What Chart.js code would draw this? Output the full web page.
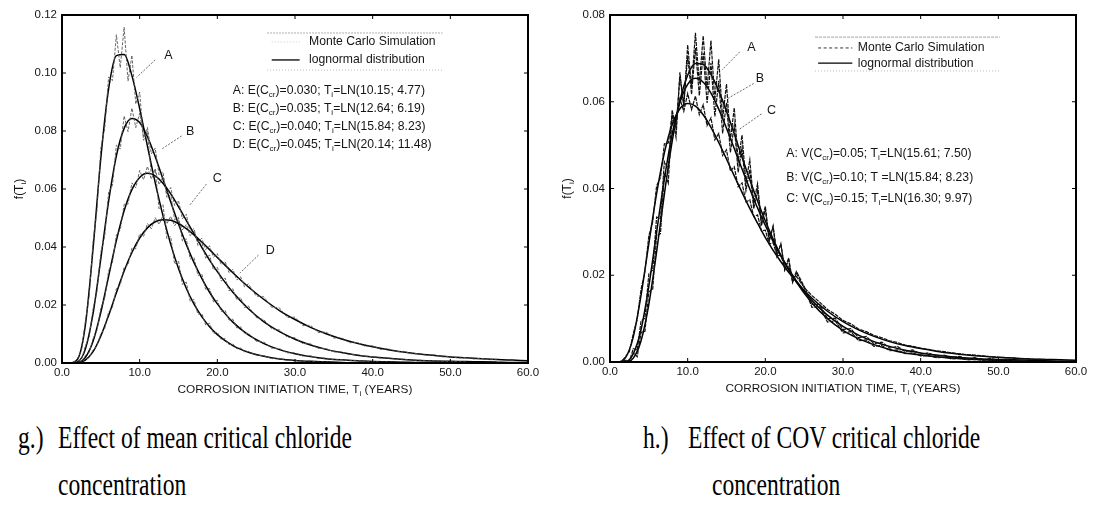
<!DOCTYPE html>
<html>
<head>
<meta charset="UTF-8">
<title>Corrosion initiation time</title>
<script src="https://cdn.jsdelivr.net/npm/chart.js@4"></script>
<style>
  body { margin: 0; background: #fff; width: 1095px; height: 512px; position: relative; overflow: hidden; }
  .plot { position: absolute; top: 0; }
  .cap { position: absolute; font-family: "Liberation Serif", "Times New Roman", serif; font-size: 31px; line-height: 1; color: #000;
         white-space: nowrap; transform: scaleX(0.76); transform-origin: 0 0; }
</style>
</head>
<body>
  <div class="plot" style="left:0"><canvas id="chartG" width="545" height="400"></canvas></div>
  <div class="plot" style="left:548px"><canvas id="chartH" width="545" height="399"></canvas></div>

  <div class="cap" style="left:18px; top:422px">g.)</div>
  <div class="cap" style="left:58px; top:422px">Effect of mean critical chloride</div>
  <div class="cap" style="left:58px; top:469px">concentration</div>
  <div class="cap" style="left:643px; top:422px">h.)</div>
  <div class="cap" style="left:688px; top:422px">Effect of COV critical chloride</div>
  <div class="cap" style="left:712px; top:469px">concentration</div>

<script>
// ---- data ----
const xTickLabels = ['0.0', '10.0', '20.0', '30.0', '40.0', '50.0', '60.0'];
const yTickLabelsG = ['0.00', '0.02', '0.04', '0.06', '0.08', '0.10', '0.12'];
const yTickLabelsH = ['0.00', '0.02', '0.04', '0.06', '0.08'];

// x positions of the fitted lognormal curves (years)
const lnX = [0, 1, 2, 3, 4, 5, 6, 7, 8, 9, 10, 11, 12, 13, 14, 15, 16, 17, 18, 19, 20,
  22, 24, 26, 28, 30, 32, 34, 36, 38, 40, 42, 44, 46, 48, 50, 52, 54, 56, 58, 60];

// x positions of the Monte Carlo histogram traces (years)
const mcX = [1, 1.5, 2, 2.5, 3, 3.5, 4, 4.5, 5, 5.5, 6, 6.5, 7, 7.5, 8, 8.5, 9, 9.5, 10, 10.5,
  11, 11.5, 12, 12.5, 13, 13.5, 14, 14.5, 15, 15.5, 16, 16.5, 17, 17.5, 18, 18.5, 19, 19.5, 20, 20.5,
  21, 21.5, 22, 22.5, 23, 23.5, 24,
  25, 26, 27, 28, 29, 30, 31, 32, 33, 34, 35, 36, 37, 38, 39, 40, 41, 42, 43, 44, 45, 46, 47, 48,
  49, 50, 51, 52, 53, 54, 55, 56];

// g.) lognormal curves
const lnGA = [0, 0, .0013, .0129, .0395, .0707, .0945, .1060, .1064, .0991, .0877, .0748, .0622, .0508, .0409, .0326, .0258, .0203, .0160, .0125, .0098,
  .0060, .0037, .0023, .0014, .0009, .0006, .0004, .0002, .0001, .0001, 0, 0, 0, 0, 0, 0, 0, 0, 0, 0];
const lnGB = [0, 0, .0004, .0047, .0171, .0360, .0557, .0714, .0809, .0843, .0829, .0780, .0712, .0634, .0555, .0479, .0409, .0346, .0292, .0244, .0204,
  .0141, .0097, .0067, .0046, .0032, .0022, .0015, .0011, .0008, .0005, .0004, .0003, .0002, .0002, .0001, .0001, .0001, 0, 0, 0];
const lnGC = [0, 0, .0001, .0019, .0075, .0175, .0299, .0422, .0525, .0598, .0640, .0654, .0645, .0620, .0583, .0539, .0492, .0445, .0399, .0355, .0315,
  .0244, .0187, .0142, .0108, .0082, .0062, .0047, .0036, .0027, .0021, .0016, .0012, .0009, .0007, .0006, .0005, .0004, .0003, .0002, .0002];
const lnGD = [0, 0, .0001, .0010, .0039, .0093, .0164, .0242, .0317, .0381, .0431, .0466, .0487, .0494, .0492, .0481, .0463, .0442, .0417, .0391, .0364,
  .0311, .0262, .0219, .0181, .0150, .0123, .0101, .0083, .0068, .0056, .0046, .0038, .0031, .0026, .0021, .0018, .0015, .0012, .0010, .0008];

// g.) Monte Carlo traces
const mcGA = [0, .0002, .0016, .0041, .0142, .0231, .0418, .0527, .0741, .0808, .0986, .0974, .1132, .1018, .1158, .0972, .1061, .0893, .0934, .0768,
  .0801, .0649, .0667, .0531, .0547, .0428, .0436, .0341, .0352, .0271, .0279, .0213, .0219, .0168, .0171, .0131, .0137, .0102, .0106, .0081,
  .0084, .0063, .0066, .0049, .0052, .0038, .0040,
  .0027, .0025, .0015, .0016, .0009, .0010, .0005, .0007, .0003, .0004, .0001, .0002, 0, .0001, 0, 0];
const mcGB = [0, 0, .0007, .0012, .0058, .0089, .0187, .0246, .0382, .0437, .0589, .0612, .0751, .0738, .0852, .0798, .0879, .0812, .0861, .0779,
  .0812, .0721, .0741, .0648, .0659, .0571, .0581, .0494, .0502, .0421, .0428, .0359, .0364, .0302, .0307, .0254, .0257, .0211, .0216, .0177,
  .0182, .0148, .0151, .0121, .0125, .0101, .0103,
  .0075, .0072, .0051, .0050, .0035, .0035, .0024, .0025, .0016, .0017, .0011, .0012, .0008, .0009, .0005, .0006, .0003, .0004, .0002, .0003,
  .0001, .0002, 0];
const mcGC = [0, 0, .0003, .0004, .0026, .0036, .0084, .0112, .0189, .0224, .0318, .0347, .0441, .0459, .0547, .0548, .0621, .0604, .0664, .0632,
  .0678, .0634, .0669, .0615, .0643, .0583, .0605, .0543, .0560, .0497, .0513, .0451, .0464, .0405, .0417, .0362, .0372, .0321, .0331, .0283,
  .0293, .0249, .0256, .0218, .0226, .0191, .0197,
  .0157, .0149, .0118, .0114, .0089, .0087, .0067, .0066, .0051, .0050, .0038, .0038, .0029, .0029, .0022, .0022, .0017, .0017, .0013, .0013,
  .0009, .0010, .0007, .0008, .0005, .0006, .0004, .0004];
const mcGD = [0, 0, .0002, .0002, .0014, .0018, .0045, .0058, .0101, .0119, .0175, .0192, .0256, .0268, .0331, .0338, .0396, .0394, .0446, .0436,
  .0481, .0463, .0501, .0478, .0508, .0480, .0506, .0473, .0495, .0459, .0477, .0439, .0456, .0417, .0430, .0391, .0404, .0365, .0377, .0339,
  .0350, .0312, .0323, .0287, .0297, .0263, .0273,
  .0231, .0228, .0192, .0190, .0157, .0158, .0129, .0130, .0105, .0107, .0086, .0087, .0070, .0071, .0058, .0059, .0047, .0049, .0039, .0040,
  .0032, .0033, .0026, .0028, .0021, .0023, .0017, .0019, .0014, .0016, .0011, .0013];

// h.) lognormal curves
const lnHA = [0, 0, 0, .0009, .0049, .0133, .0254, .0387, .0508, .0602, .0661, .0688, .0686, .0663, .0625, .0578, .0526, .0472, .0420, .0371, .0325,
  .0246, .0184, .0136, .0100, .0073, .0054, .0040, .0029, .0021, .0016, .0012, .0009, .0007, .0005, .0004, .0003, .0002, .0002, .0001, .0001];
const lnHB = [0, 0, .0001, .0019, .0075, .0175, .0299, .0422, .0525, .0598, .0640, .0654, .0645, .0620, .0583, .0539, .0492, .0445, .0399, .0355, .0315,
  .0244, .0187, .0142, .0108, .0082, .0062, .0047, .0036, .0027, .0021, .0016, .0012, .0009, .0007, .0006, .0005, .0004, .0003, .0002, .0002];
const lnHC = [0, 0, .0010, .0058, .0154, .0273, .0388, .0482, .0547, .0584, .0596, .0590, .0570, .0541, .0506, .0468, .0429, .0391, .0354, .0320, .0287,
  .0231, .0185, .0147, .0117, .0093, .0074, .0059, .0047, .0038, .0031, .0025, .0020, .0016, .0013, .0011, .0009, .0007, .0006, .0005, .0004];

// h.) Monte Carlo traces
const mcHA = [0, 0, .0003, 0, .0021, .0012, .0068, .0071, .0162, .0168, .0291, .0296, .0436, .0412, .0571, .0518, .0668, .0589, .0731, .0634,
  .0759, .0642, .0752, .0631, .0741, .0604, .0698, .0561, .0641, .0511, .0586, .0462, .0523, .0414, .0466, .0366, .0411, .0322, .0359, .0281,
  .0314, .0246, .0272, .0212, .0236, .0183, .0204,
  .0172, .0126, .0128, .0092, .0095, .0067, .0070, .0049, .0051, .0036, .0038, .0026, .0028, .0019, .0021, .0014, .0015, .0010, .0011, .0007,
  .0008, .0005, .0006, .0004, .0005, .0003];
const mcHB = [0, 0, .0004, .0002, .0031, .0027, .0095, .0101, .0203, .0212, .0334, .0331, .0462, .0446, .0581, .0539, .0657, .0594, .0706, .0617,
  .0724, .0614, .0712, .0597, .0689, .0566, .0648, .0527, .0598, .0483, .0546, .0437, .0494, .0395, .0444, .0353, .0396, .0314, .0352, .0278,
  .0311, .0244, .0273, .0213, .0240, .0186, .0209,
  .0174, .0133, .0133, .0100, .0101, .0075, .0077, .0056, .0059, .0042, .0046, .0032, .0036, .0024, .0028, .0018, .0021, .0013, .0016, .0010,
  .0013, .0007, .0010, .0005, .0008, .0004, .0006, .0003, .0004];
const mcHC = [0, .0002, .0012, .0024, .0066, .0098, .0168, .0209, .0291, .0323, .0406, .0425, .0503, .0505, .0568, .0551, .0607, .0578, .0619, .0582,
  .0613, .0570, .0593, .0545, .0563, .0512, .0527, .0476, .0489, .0440, .0450, .0404, .0413, .0369, .0374, .0335, .0339, .0302, .0304, .0272,
  .0275, .0245, .0246, .0218, .0221, .0196, .0197,
  .0172, .0153, .0138, .0121, .0110, .0096, .0088, .0076, .0070, .0061, .0056, .0049, .0045, .0039, .0036, .0032, .0029, .0026, .0024, .0021,
  .0019, .0017, .0016, .0014, .0012, .0011, .0010, .0009, .0008, .0007, .0006, .0006];

// ---- drawing helpers ----
const FONT = '"Liberation Sans", Arial, Helvetica, sans-serif';
const INK = '#151515';

function series(xs, ys) {
  return ys.map((y, i) => ({ x: xs[i], y }));
}

// text with _{sub} parts
function richText(ctx, str, x, y, size, align) {
  const segs = str.split(/(_\{[^}]*\})/).filter(p => p.length).map(p =>
    p.startsWith('_{') ? { t: p.slice(2, -1), sub: true } : { t: p, sub: false });
  let total = 0;
  segs.forEach(s => {
    ctx.font = `${s.sub ? size * 0.66 : size}px ${FONT}`;
    s.w = ctx.measureText(s.t).width;
    total += s.w;
  });
  let cx = align === 'center' ? x - total / 2 : align === 'right' ? x - total : x;
  ctx.textAlign = 'left';
  ctx.textBaseline = 'middle';
  segs.forEach(s => {
    ctx.font = `${s.sub ? size * 0.66 : size}px ${FONT}`;
    ctx.fillText(s.t, cx, s.sub ? y + size * 0.32 : y);
    cx += s.w;
  });
}

const framePlugin = {
  id: 'frame',
  afterDraw(chart) {
    const { ctx, chartArea: a, scales } = chart;
    ctx.save();
    ctx.strokeStyle = '#000';
    ctx.lineWidth = 1;
    // inward ticks
    scales.x.ticks.forEach(t => {
      const px = scales.x.getPixelForValue(t.value);
      ctx.beginPath();
      ctx.moveTo(px, a.bottom); ctx.lineTo(px, a.bottom - 4);
      ctx.moveTo(px, a.top); ctx.lineTo(px, a.top + 4);
      ctx.stroke();
    });
    scales.y.ticks.forEach(t => {
      const py = scales.y.getPixelForValue(t.value);
      ctx.beginPath();
      ctx.moveTo(a.left, py); ctx.lineTo(a.left + 4, py);
      ctx.moveTo(a.right, py); ctx.lineTo(a.right - 4, py);
      ctx.stroke();
    });
    ctx.lineWidth = 2;
    ctx.strokeRect(a.left, a.top, a.right - a.left, a.bottom - a.top);
    ctx.restore();
  }
};

const notesPlugin = {
  id: 'notes',
  afterDraw(chart, args, opts) {
    const { ctx, chartArea: a, scales } = chart;
    const X = v => scales.x.getPixelForValue(v);
    const Y = v => scales.y.getPixelForValue(v);
    ctx.save();
    (opts.items || []).forEach(it => {
      if (it.type === 'line') {
        ctx.beginPath();
        ctx.strokeStyle = it.color || '#444';
        ctx.lineWidth = it.width || 0.8;
        ctx.setLineDash(it.dash || []);
        ctx.moveTo(X(it.x1), Y(it.y1));
        ctx.lineTo(X(it.x2), Y(it.y2));
        ctx.stroke();
        ctx.setLineDash([]);
      } else {
        ctx.fillStyle = INK;
        richText(ctx, it.text, X(it.x), Y(it.y), it.size || 12.2, it.align || 'left');
      }
    });
    // axis titles
    ctx.fillStyle = INK;
    richText(ctx, 'CORROSION INITIATION TIME, T_{i} (YEARS)', (a.left + a.right) / 2, a.bottom + 27, 11.8, 'center');
    ctx.translate(a.left - 42, (a.top + a.bottom) / 2);
    ctx.rotate(-Math.PI / 2);
    richText(ctx, 'f(T_{i})', 0, 0, 12, 'center');
    ctx.restore();
  }
};

function makeChart(canvas, datasets, yMax, yLabels, items) {
  return new Chart(canvas, {
    type: 'line',
    data: { datasets },
    options: {
      responsive: false,
      animation: false,
      layout: { padding: { top: 15, right: 17, bottom: 0, left: 0 } },
      plugins: { legend: { display: false }, tooltip: { enabled: false }, notes: { items } },
      elements: { point: { radius: 0 }, line: { cubicInterpolationMode: 'monotone' } },
      scales: {
        x: {
          type: 'linear', min: 0, max: 60,
          afterFit(s) { s.height = 37; },
          grid: { display: false, drawTicks: false },
          border: { display: false },
          ticks: { stepSize: 10, padding: 3, color: INK, font: { family: FONT, size: 11.5 }, maxRotation: 0,
            callback: (v, i) => xTickLabels[i] }
        },
        y: {
          min: 0, max: yMax,
          afterFit(s) { s.width = 62; },
          grid: { display: false, drawTicks: false },
          border: { display: false },
          ticks: { stepSize: 0.02, padding: 5, color: INK, font: { family: FONT, size: 11.5 },
            callback: (v, i) => yLabels[i] }
        }
      }
    },
    plugins: [framePlugin, notesPlugin]
  });
}

const mcStyleG = { borderColor: '#555', borderWidth: 0.9, borderDash: [3, 1.5], cubicInterpolationMode: 'default', tension: 0 };
const lnStyle = { borderColor: '#000', borderWidth: 1.5 };

makeChart(document.getElementById('chartG'), [
  { label: 'Monte Carlo A', data: series(mcX, mcGA), ...mcStyleG },
  { label: 'Monte Carlo B', data: series(mcX, mcGB), ...mcStyleG },
  { label: 'Monte Carlo C', data: series(mcX, mcGC), ...mcStyleG },
  { label: 'Monte Carlo D', data: series(mcX, mcGD), ...mcStyleG },
  { label: 'lognormal A', data: series(lnX, lnGA), ...lnStyle },
  { label: 'lognormal B', data: series(lnX, lnGB), ...lnStyle },
  { label: 'lognormal C', data: series(lnX, lnGC), ...lnStyle },
  { label: 'lognormal D', data: series(lnX, lnGD), ...lnStyle }
], 0.12, yTickLabelsG, [
  { type: 'line', x1: 26.4, y1: 0.1138, x2: 49.0, y2: 0.1138, color: '#999', dash: [2, 1] },
  { type: 'line', x1: 26.4, y1: 0.1010, x2: 49.0, y2: 0.1010, color: '#aaa', dash: [1, 2] },
  { type: 'line', x1: 27.0, y1: 0.1107, x2: 30.6, y2: 0.1107, color: '#bbb', dash: [1, 2] },
  { type: 'line', x1: 27.0, y1: 0.1045, x2: 30.6, y2: 0.1045, color: '#000', width: 1.3 },
  { text: 'Monte Carlo Simulation', x: 31.8, y: 0.1107 },
  { text: 'lognormal distribution', x: 31.8, y: 0.1045 },
  { text: 'A: E(C_{cr})=0.030; T_{i}=LN(10.15; 4.77)', x: 22.0, y: 0.0938 },
  { text: 'B: E(C_{cr})=0.035; T_{i}=LN(12.64; 6.19)', x: 22.0, y: 0.0876 },
  { text: 'C: E(C_{cr})=0.040; T_{i}=LN(15.84; 8.23)', x: 22.0, y: 0.0814 },
  { text: 'D: E(C_{cr})=0.045; T_{i}=LN(20.14; 11.48)', x: 22.0, y: 0.0752 },
  { text: 'A', x: 13.7, y: 0.106, size: 12.5, align: 'center' },
  { text: 'B', x: 16.5, y: 0.0797, size: 12.5, align: 'center' },
  { text: 'C', x: 20.0, y: 0.0635, size: 12.5, align: 'center' },
  { text: 'D', x: 26.8, y: 0.0389, size: 12.5, align: 'center' },
  { type: 'line', x1: 12.0, y1: 0.1045, x2: 9.6, y2: 0.0985, dash: [2, 1.5] },
  { type: 'line', x1: 15.4, y1: 0.0783, x2: 12.8, y2: 0.0737, dash: [2, 1.5] },
  { type: 'line', x1: 18.6, y1: 0.0617, x2: 16.4, y2: 0.0543, dash: [2, 1.5] },
  { type: 'line', x1: 25.3, y1: 0.0372, x2: 22.9, y2: 0.0310, dash: [2, 1.5] }
]);

const mcStyleH = { borderColor: '#111', borderWidth: 1.2, borderDash: [4, 1], cubicInterpolationMode: 'default', tension: 0 };

makeChart(document.getElementById('chartH'), [
  { label: 'Monte Carlo A', data: series(mcX, mcHA), ...mcStyleH },
  { label: 'Monte Carlo B', data: series(mcX, mcHB), ...mcStyleH },
  { label: 'Monte Carlo C', data: series(mcX, mcHC), ...mcStyleH },
  { label: 'lognormal A', data: series(lnX, lnHA), ...lnStyle },
  { label: 'lognormal B', data: series(lnX, lnHB), ...lnStyle },
  { label: 'lognormal C', data: series(lnX, lnHC), ...lnStyle }
], 0.08, yTickLabelsH, [
  { type: 'line', x1: 26.4, y1: 0.0749, x2: 50.2, y2: 0.0749, color: '#888', dash: [3, 1] },
  { type: 'line', x1: 26.4, y1: 0.0671, x2: 50.2, y2: 0.0671, color: '#aaa', dash: [1, 2] },
  { type: 'line', x1: 26.8, y1: 0.0724, x2: 31.2, y2: 0.0724, color: '#000', dash: [3, 2.5] },
  { type: 'line', x1: 26.8, y1: 0.0689, x2: 31.2, y2: 0.0689, color: '#000', width: 1.3 },
  { text: 'Monte Carlo Simulation', x: 31.9, y: 0.0724 },
  { text: 'lognormal distribution', x: 31.9, y: 0.0689 },
  { text: 'A: V(C_{cr})=0.05; T_{i}=LN(15.61; 7.50)', x: 22.7, y: 0.0480 },
  { text: 'B: V(C_{cr})=0.10; T =LN(15.84; 8.23)', x: 22.7, y: 0.0425 },
  { text: 'C: V(C_{cr})=0.15; T_{i}=LN(16.30; 9.97)', x: 22.7, y: 0.0376 },
  { text: 'A', x: 18.2, y: 0.0726, size: 12.5, align: 'center' },
  { text: 'B', x: 19.3, y: 0.0653, size: 12.5, align: 'center' },
  { text: 'C', x: 20.8, y: 0.0580, size: 12.5, align: 'center' },
  { type: 'line', x1: 16.7, y1: 0.0715, x2: 14.4, y2: 0.0673, dash: [2, 1.5] },
  { type: 'line', x1: 18.5, y1: 0.0642, x2: 15.2, y2: 0.0608, dash: [2, 1.5] },
  { type: 'line', x1: 19.5, y1: 0.0572, x2: 16.7, y2: 0.0537, dash: [2, 1.5] }
]);
</script>
</body>
</html>
